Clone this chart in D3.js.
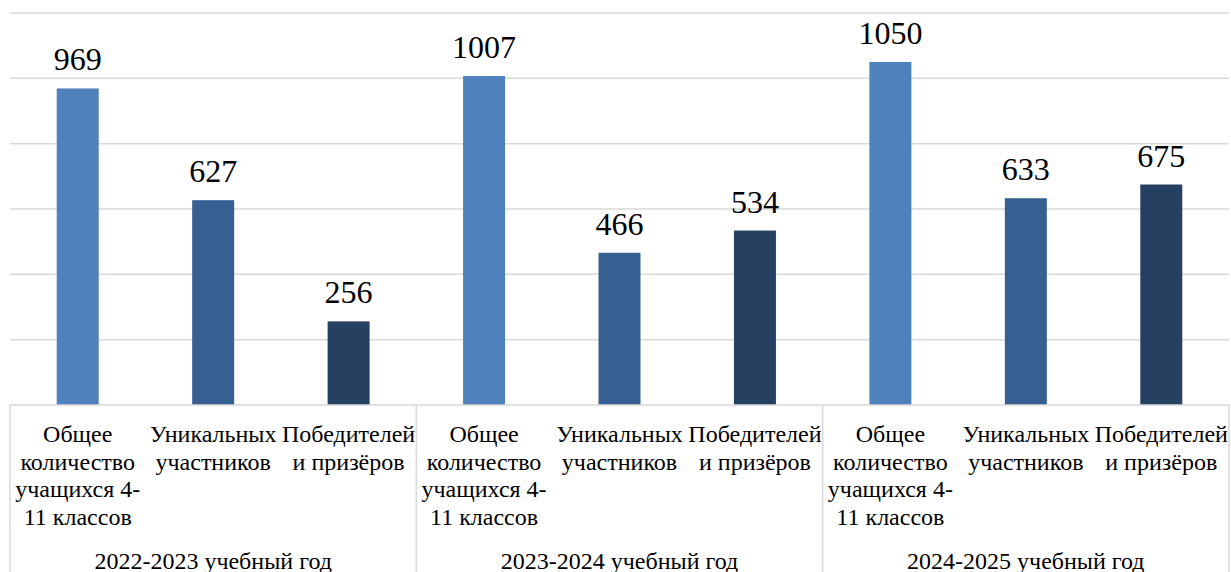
<!DOCTYPE html>
<html lang="ru">
<head>
  <meta charset="UTF-8">
  <title>Участники олимпиады</title>
  <script src="https://d3js.org/d3.v7.min.js"></script>
  <style>
    body { margin: 0; background: #fff; }
    svg { display: block; }
  </style>
</head>
<body>
  <div id="chart"></div>
  <script>
    // данные
    const years = ["2022-2023 учебный год", "2023-2024 учебный год", "2024-2025 учебный год"];
    const categories = ["Общее количество", "Уникальных участников", "Победителей и призёров"];
    const categoryLines = [
      ["Общее", "количество", "учащихся 4-", "11 классов"],
      ["Уникальных", "участников"],
      ["Победителей", "и призёров"]
    ];
    const values = [
      [969, 627, 256],
      [1007, 466, 534],
      [1050, 633, 675]
    ];
    const colors = ["#4f81bd", "#376092", "#254061"];
    const gridTicks = [0, 200, 400, 600, 800, 1000, 1200];

    const width = 1231, height = 572;
    const plotLeft = 10, plotRight = 1229, plotBase = 405, plotTop = 13;
    const serif = '"Liberation Serif"';

    const svg = d3.select("#chart").append("svg")
      .attr("width", width).attr("height", height);

    // плоский список столбцов
    const bars = [];
    years.forEach((yr, gi) => {
      categories.forEach((c, ci) => {
        bars.push({ key: gi + "-" + ci, gi, ci, value: values[gi][ci] });
      });
    });

    const x = d3.scaleBand()
      .domain(bars.map(d => d.key))
      .range([plotLeft, plotRight])
      .paddingInner(0.69)
      .paddingOuter(0.345);

    const xGroup = d3.scaleBand().domain(years).range([plotLeft, plotRight]);

    const y = d3.scaleLinear().domain([0, 1200]).range([plotBase, plotTop]);

    // сетка
    svg.append("g").selectAll("line")
      .data(gridTicks.filter(t => t > 0))
      .enter().append("line")
      .attr("x1", plotLeft).attr("x2", plotRight)
      .attr("y1", d => y(d)).attr("y2", d => y(d))
      .attr("stroke", "#d9d9d9").attr("stroke-width", 1.5);

    // столбцы
    svg.append("g").selectAll("rect")
      .data(bars)
      .enter().append("rect")
      .attr("x", d => x(d.key))
      .attr("width", x.bandwidth())
      .attr("y", d => y(d.value))
      .attr("height", d => plotBase - y(d.value))
      .attr("fill", d => colors[d.ci]);

    // подписи значений
    svg.append("g").selectAll("text")
      .data(bars)
      .enter().append("text")
      .attr("x", d => x(d.key) + x.bandwidth() / 2)
      .attr("y", d => y(d.value) - 18)
      .attr("text-anchor", "middle")
      .style("font-family", serif)
      .style("font-size", "32px")
      .attr("fill", "#000")
      .text(d => d.value);

    // ось X
    svg.append("line")
      .attr("x1", plotLeft).attr("x2", plotRight)
      .attr("y1", plotBase).attr("y2", plotBase)
      .attr("stroke", "#d9d9d9").attr("stroke-width", 1.5);

    const dividers = years.map(yr => xGroup(yr)).concat([plotRight]);
    svg.append("g").selectAll("line")
      .data(dividers)
      .enter().append("line")
      .attr("x1", d => d).attr("x2", d => d)
      .attr("y1", plotBase).attr("y2", height)
      .attr("stroke", "#d9d9d9").attr("stroke-width", 1.5);

    // подписи категорий
    const catLabels = svg.append("g").selectAll("text")
      .data(bars)
      .enter().append("text")
      .attr("text-anchor", "middle")
      .style("font-family", serif)
      .style("font-size", "24px")
      .attr("fill", "#000");
    catLabels.each(function (d) {
      const cx = x(d.key) + x.bandwidth() / 2;
      d3.select(this).selectAll("tspan")
        .data(categoryLines[d.ci])
        .enter().append("tspan")
        .attr("x", cx)
        .attr("y", (t, i) => 442 + i * 27.7)
        .text(t => t);
    });

    // подписи годов
    svg.append("g").selectAll("text")
      .data(years)
      .enter().append("text")
      .attr("x", d => xGroup(d) + xGroup.bandwidth() / 2)
      .attr("y", 569)
      .attr("text-anchor", "middle")
      .style("font-family", serif)
      .style("font-size", "24px")
      .attr("fill", "#000")
      .text(d => d);
  </script>
</body>
</html>
